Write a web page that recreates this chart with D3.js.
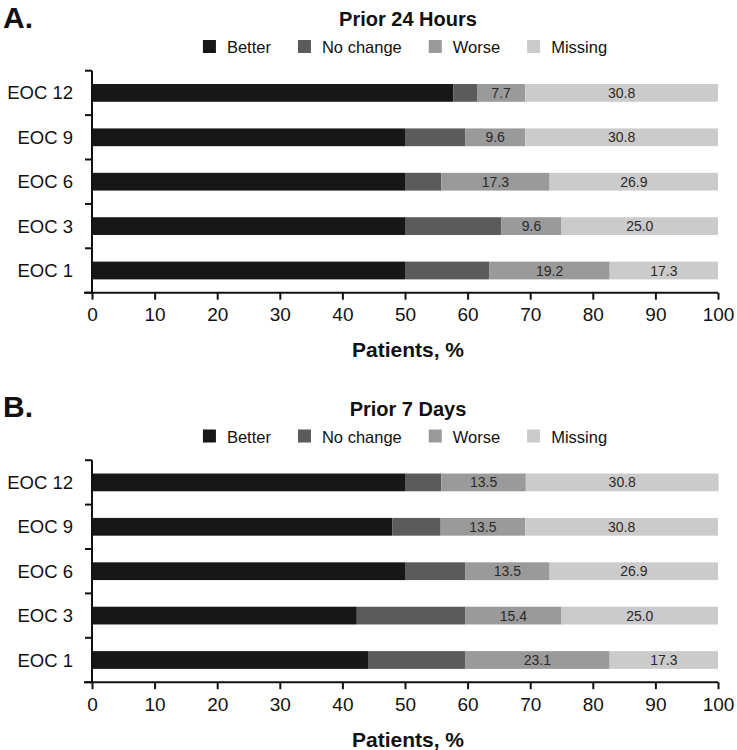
<!DOCTYPE html>
<html>
<head>
<meta charset="utf-8">
<script src="https://cdn.jsdelivr.net/npm/d3@7"></script>
<style>
  html, body { margin: 0; padding: 0; background: #fff; }
  svg { display: block; font-family: "Liberation Sans", Arial, Helvetica, sans-serif; }
</style>
</head>
<body>
<svg id="chart" width="737" height="750"></svg>
<script>
// ---- Data ----
const categories = ["EOC 12", "EOC 9", "EOC 6", "EOC 3", "EOC 1"];
const seriesNames = ["Better", "No change", "Worse", "Missing"];
const seriesColors = ["#171717", "#5b5b5b", "#9a9a9a", "#cbcbcb"];
const labeledSeries = ["Worse", "Missing"];
const xTicks = [0, 10, 20, 30, 40, 50, 60, 70, 80, 90, 100];

// Panel A: Prior 24 Hours (values per category, order of categories above)
const a_better   = [57.7, 50.0, 50.0, 50.0, 50.0];
const a_nochange = [3.8, 9.6, 5.8, 15.4, 13.5];
const a_worse    = [7.7, 9.6, 17.3, 9.6, 19.2];
const a_missing  = [30.8, 30.8, 26.9, 25.0, 17.3];

// Panel B: Prior 7 Days
const b_better   = [50.0, 48.0, 50.0, 42.3, 44.2];
const b_nochange = [5.8, 7.7, 9.6, 17.3, 15.4];
const b_worse    = [13.5, 13.5, 13.5, 15.4, 23.1];
const b_missing  = [30.8, 30.8, 26.9, 25.0, 17.3];

const panels = [
  { letter: "A.", title: "Prior 24 Hours", series: [a_better, a_nochange, a_worse, a_missing], offset: 0 },
  { letter: "B.", title: "Prior 7 Days",   series: [b_better, b_nochange, b_worse, b_missing], offset: 389.5 }
];

const svg = d3.select("#chart");
const x = d3.scaleLinear().domain([0, 100]).range([92, 718]);
const xCenter = (x.range()[0] + x.range()[1]) / 2;

panels.forEach(p => {
  const g = svg.append("g").attr("transform", `translate(0,${p.offset})`);
  const yTop = 70.7, yBot = 292.7;
  const y = d3.scaleBand().domain(categories).range([yTop, yBot]).paddingInner(0.6).paddingOuter(0.3);

  // Panel letter
  g.append("text").attr("x", 3).attr("y", 27.5).attr("font-size", 30).attr("font-weight", "bold")
    .attr("fill", "#111").text(p.letter);

  // Title
  g.append("text").attr("x", xCenter + 3).attr("y", 26).attr("text-anchor", "middle")
    .attr("font-size", 20).attr("font-weight", "bold").attr("fill", "#111").text(p.title);

  // Legend
  const leg = g.append("g");
  const items = seriesNames.map((name, i) => {
    const it = leg.append("g");
    it.append("rect").attr("x", 0).attr("y", 40).attr("width", 13).attr("height", 13).attr("fill", seriesColors[i]);
    const t = it.append("text").attr("x", 24).attr("y", 53).attr("font-size", 16.5).attr("fill", "#111").text(name);
    return { g: it, w: 24 + t.node().getComputedTextLength() };
  });
  const gap = 27;
  const total = d3.sum(items, d => d.w) + gap * (items.length - 1);
  let cx = xCenter - total / 2;
  items.forEach(it => { it.g.attr("transform", `translate(${cx},0)`); cx += it.w + gap; });

  // Stacked data
  const rows = categories.map((c, ci) => {
    const r = { cat: c };
    seriesNames.forEach((s, si) => r[s] = p.series[si][ci]);
    return r;
  });
  const stack = d3.stack().keys(seriesNames)(rows);

  stack.forEach((layer, si) => {
    const lg = g.append("g");
    lg.selectAll("rect").data(layer).join("rect")
      .attr("x", d => x(d[0]))
      .attr("y", d => y(d.data.cat))
      .attr("width", d => x(d[1]) - x(d[0]))
      .attr("height", y.bandwidth())
      .attr("fill", seriesColors[si]);
    if (labeledSeries.includes(layer.key)) {
      lg.selectAll("text").data(layer).join("text")
        .attr("x", d => (x(d[0]) + x(d[1])) / 2)
        .attr("y", d => y(d.data.cat) + y.bandwidth() / 2 + 5)
        .attr("text-anchor", "middle")
        .attr("font-size", 14)
        .attr("fill", "#2a2a2a")
        .text(d => d3.format(".1f")(d[1] - d[0]));
    }
  });

  // Y axis
  const step = y.step();
  const boundaries = d3.range(categories.length + 1).map(i => yTop + i * step);
  g.append("line").attr("x1", x(0)).attr("x2", x(0)).attr("y1", yTop).attr("y2", yBot)
    .attr("stroke", "#111").attr("stroke-width", 2);
  g.selectAll(".ytick").data(boundaries).join("line").attr("class", "ytick")
    .attr("x1", x(0) - 7).attr("x2", x(0)).attr("y1", d => d).attr("y2", d => d)
    .attr("stroke", "#111").attr("stroke-width", 2);
  g.selectAll(".ylab").data(categories).join("text").attr("class", "ylab")
    .attr("x", 73).attr("y", d => y(d) + y.bandwidth() / 2 + 6.5)
    .attr("text-anchor", "end").attr("font-size", 18.5).attr("fill", "#111").text(d => d);

  // X axis
  const xa = g.append("g").attr("transform", `translate(0,${yBot})`)
    .call(d3.axisBottom(x).tickValues(xTicks).tickSize(7).tickSizeOuter(0).tickPadding(8));
  xa.select(".domain").attr("stroke", "#111").attr("stroke-width", 2)
    .attr("d", `M${x(0) - 8},0H${x(100)}`);
  xa.selectAll(".tick line").attr("stroke", "#111").attr("stroke-width", 2);
  xa.selectAll(".tick text").attr("font-size", 19).attr("fill", "#111")
    .attr("font-family", "'Liberation Sans', Arial, sans-serif");

  // X axis title
  g.append("text").attr("x", xCenter + 3).attr("y", 357).attr("text-anchor", "middle")
    .attr("font-size", 21).attr("font-weight", "bold").attr("fill", "#111").text("Patients, %");
});
</script>
</body>
</html>
